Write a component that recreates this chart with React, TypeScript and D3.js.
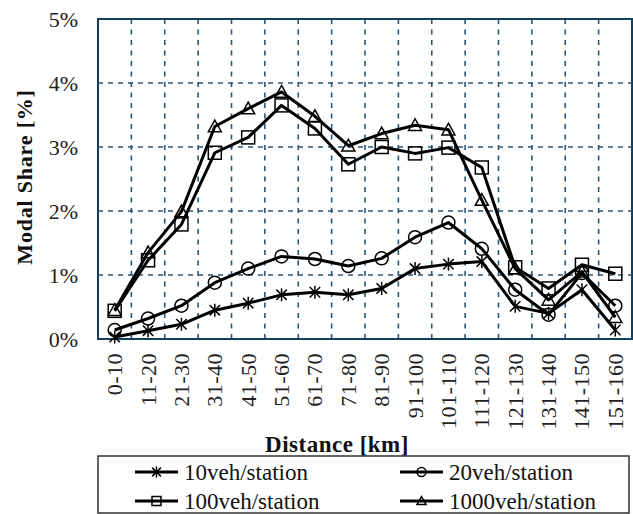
import React from 'react';
import * as d3 from 'd3';

const categories = ['0-10','11-20','21-30','31-40','41-50','51-60','61-70','71-80','81-90','91-100','101-110','111-120','121-130','131-140','141-150','151-160'];
const veh10 = [0.03,0.13,0.23,0.45,0.56,0.69,0.73,0.69,0.79,1.10,1.17,1.21,0.51,0.40,0.77,0.14];
const veh20 = [0.14,0.32,0.52,0.88,1.10,1.29,1.25,1.14,1.26,1.59,1.82,1.41,0.77,0.38,1.03,0.52];
const veh100 = [0.44,1.23,1.79,2.91,3.15,3.65,3.29,2.73,3.00,2.90,2.99,2.68,1.12,0.79,1.16,1.02];
const veh1000 = [0.45,1.35,1.99,3.32,3.60,3.86,3.48,3.02,3.21,3.34,3.27,2.17,1.10,0.61,1.05,0.34];
const seriesNames = ['10veh/station','20veh/station','100veh/station','1000veh/station'];
const markerTypes = ['star','circle','square','triangle'];
const yTicks = [0,1,2,3,4,5];

const W = 633, H = 514;
const M = { left: 98, right: 632, top: 19, bottom: 339 };
const FONT = "'Liberation Serif', 'Times New Roman', Times, serif";
const GRID = '#2b5675';
const BORDER = '#133f5e';

function Marker({ type, x, y, s }: { type: string; x: number; y: number; s: number }) {
  const h = s / 2;
  const common = { fill: 'none', stroke: '#000', strokeWidth: 1.5 } as any;
  if (type === 'circle') return <circle cx={x} cy={y} r={h} {...common} />;
  if (type === 'square') return <rect x={x - h} y={y - h} width={s} height={s} {...common} />;
  if (type === 'triangle') {
    const p = `${x},${y - h} ${x + h},${y + h * 0.8} ${x - h},${y + h * 0.8}`;
    return <polygon points={p} {...common} />;
  }
  const d = h * 0.8;
  return (
    <g {...common}>
      <line x1={x} y1={y - h} x2={x} y2={y + h} />
      <line x1={x - d} y1={y - d} x2={x + d} y2={y + d} />
      <line x1={x - d} y1={y + d} x2={x + d} y2={y - d} />
    </g>
  );
}

export default function App() {
  const x = d3.scaleBand<string>().domain(categories).range([M.left, M.right]).padding(0);
  const y = d3.scaleLinear().domain([0, 5]).range([M.bottom, M.top]);
  const series = [veh10, veh20, veh100, veh1000];
  const line = d3.line<number>()
    .x((_, i) => (x(categories[i]) as number) + x.bandwidth() / 2)
    .y((v) => y(v));
  const boundaries = categories.slice(1).map((c) => x(c) as number);
  const tf = { fontFamily: FONT } as React.CSSProperties;

  return (
    <svg width={W} height={H} style={{ position: 'absolute', left: 0, top: 0, background: '#fff', fontFamily: FONT }}>
      <rect x={0} y={0} width={W} height={H} fill="#fff" />
      {yTicks.slice(1, -1).map((t) => (
        <line key={'gy' + t} x1={M.left} x2={M.right} y1={y(t)} y2={y(t)} stroke={GRID} strokeWidth={1.6} strokeDasharray="5,5" />
      ))}
      {boundaries.map((b, i) => (
        <line key={'gx' + i} x1={b} x2={b} y1={M.top} y2={M.bottom} stroke={GRID} strokeWidth={1.6} strokeDasharray="5,5.5" />
      ))}
      <rect x={M.left} y={M.top} width={M.right - M.left} height={M.bottom - M.top} fill="none" stroke={BORDER} strokeWidth={2} />
      {yTicks.map((t) => (
        <text key={'yt' + t} style={tf} x={78} y={y(t)} textAnchor="end" dominantBaseline="central" fontSize={22} fill="#222">{t}%</text>
      ))}
      {categories.map((c) => {
        const cx = (x(c) as number) + x.bandwidth() / 2;
        return (
          <text key={'xt' + c} style={tf} transform={`translate(${cx},${353}) rotate(-90)`} textAnchor="end" dominantBaseline="central" fontSize={22} letterSpacing={0.5} fill="#222">{c}</text>
        );
      })}
      <text style={tf} transform={`translate(24,177) rotate(-90)`} textAnchor="middle" dominantBaseline="central" fontSize={22} fontWeight="bold" letterSpacing={0.8} fill="#111">Modal Share [%]</text>
      <text style={tf} x={337} y={452} textAnchor="middle" fontSize={23} fontWeight="bold" letterSpacing={0.5} fill="#111">Distance [km]</text>
      {series.map((s, si) => (
        <g key={'s' + si}>
          <path d={line(s) as string} fill="none" stroke="#000" strokeWidth={3} strokeLinejoin="round" />
          {s.map((v, i) => (
            <Marker key={i} type={markerTypes[si]} x={(x(categories[i]) as number) + x.bandwidth() / 2} y={y(v)} s={13} />
          ))}
        </g>
      ))}
      <rect x={98} y={456} width={531} height={57} fill="#fff" stroke="#333" strokeWidth={1.5} />
      {seriesNames.map((n, i) => {
        const col = i % 2, row = Math.floor(i / 2);
        const lx = col === 0 ? 135 : 400;
        const ly = row === 0 ? 472 : 501;
        return (
          <g key={'lg' + i}>
            <line x1={lx} x2={lx + 43} y1={ly} y2={ly} stroke="#000" strokeWidth={3} />
            <Marker type={markerTypes[i]} x={lx + 21.5} y={ly} s={i === 0 ? 11 : 9} />
            <text style={tf} x={lx + 49} y={ly} dominantBaseline="central" fontSize={23} fill="#111">{n}</text>
          </g>
        );
      })}
    </svg>
  );
}
